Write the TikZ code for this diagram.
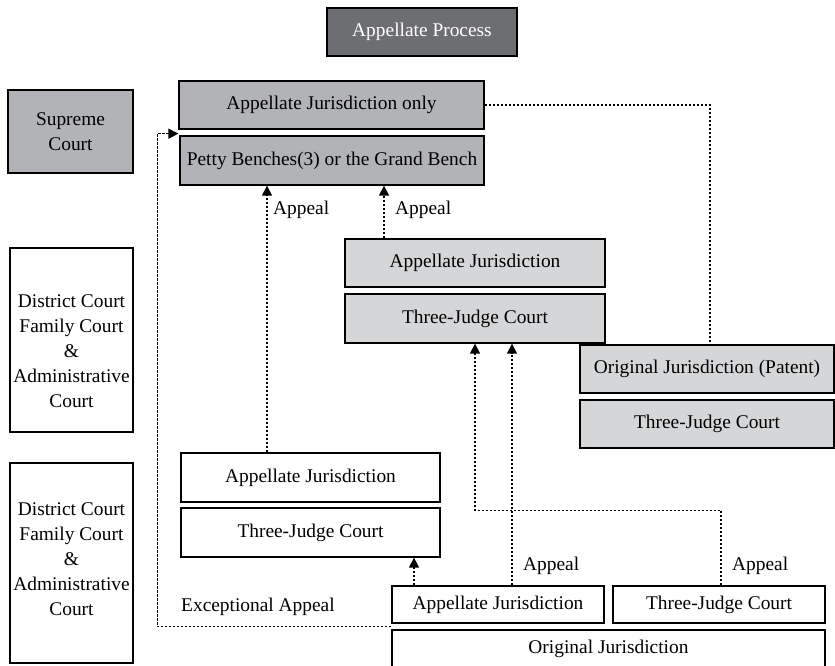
\documentclass[tikz,border=0pt]{standalone}
\usepackage{fontspec}
\setmainfont{Liberation Serif}
\usetikzlibrary{arrows.meta}
\definecolor{darkgrey}{HTML}{6D6E71}
\definecolor{midgrey}{HTML}{B1B3B6}
\definecolor{lightgrey}{HTML}{D5D6D8}
\begin{document}
\begin{tikzpicture}[x=1pt,y=-1pt,>={Triangle[width=10pt,length=10pt]},
  font=\fontsize{19.4}{25}\selectfont,
  court/.style={draw,line width=1.3pt,inner sep=0pt,align=center},
  link/.style={line width=1.4pt,dash pattern=on 2.2pt off 1.8pt},
  tag/.style={inner sep=0pt,anchor=west}]
\useasboundingbox (0,0) rectangle (835,666);
% supreme court level
\node[court,fill=darkgrey,text=white,minimum width=190pt,minimum height=48pt] (proc) at (422,32) {Appellate Process};
\node[court,fill=midgrey,minimum width=125pt,minimum height=83pt] (sup) at (70.5,131.5) {Supreme\\Court};
\node[court,fill=midgrey,minimum width=305pt,minimum height=48pt] (ajonly) at (331.5,105) {Appellate Jurisdiction only};
\node[court,fill=midgrey,minimum width=304pt,minimum height=49pt] (petty) at (332,160.5) {Petty Benches(3) or the Grand Bench};
% district court level
\node[court,minimum width=123pt,minimum height=184pt,
  label={[align=center,yshift=-11pt]center:District Court\\Family Court\\\&\\Administrative\\Court}] (dist1) at (71.5,340) {};
\node[court,minimum width=123pt,minimum height=200pt,
  label={[align=center,yshift=4pt]center:District Court\\Family Court\\\&\\Administrative\\Court}] (dist2) at (71.5,563) {};
\node[court,fill=lightgrey,minimum width=260pt,minimum height=48pt] (ajmid) at (475,263) {Appellate Jurisdiction};
\node[court,fill=lightgrey,minimum width=260pt,minimum height=49pt] (tjmid) at (475,318.5) {Three-Judge Court};
\node[court,fill=lightgrey,minimum width=254pt,minimum height=48pt] (ojpat) at (707,369) {Original Jurisdiction (Patent)};
\node[court,fill=lightgrey,minimum width=254pt,minimum height=48pt] (tjpat) at (707,424) {Three-Judge Court};
\node[court,minimum width=259pt,minimum height=49pt] (ajlow) at (310.5,477.5) {Appellate Jurisdiction};
\node[court,minimum width=259pt,minimum height=49pt] (tjlow) at (310.5,532.5) {Three-Judge Court};
\node[court,minimum width=212pt,minimum height=37pt] (ajbot) at (498,604.5) {Appellate Jurisdiction};
\node[court,minimum width=212pt,minimum height=37pt] (tjbot) at (719,604.5) {Three-Judge Court};
\node[court,minimum width=433pt,minimum height=38pt] (orig) at (608.5,649) {Original Jurisdiction};
% appeals
\draw[link,->] ([xshift=-43.5pt]ajlow.north) coordinate (a1) -- (a1 |- petty.south);
\draw[link,->] ([xshift=-91pt]ajmid.north) coordinate (a2) -- (a2 |- petty.south);
\draw[link,->] ([xshift=14pt]ajbot.north) coordinate (a3) -- (a3 |- tjmid.south);
\draw[link,->] ([xshift=2pt]tjbot.north) -- ++(0,-75) -| (tjmid.south);
\draw[link,->] ([xshift=-84pt]ajbot.north) coordinate (a5) -- (a5 |- tjlow.south);
\draw[link,->] ([yshift=-3pt]ajbot.south west) -| ([xshift=-21pt,yshift=-4pt]ajonly.south west) -- ([yshift=-4pt]ajonly.south west);
\draw[link] (ajonly.east) -| ([xshift=3pt]ojpat.north);
\node[tag] (lb1) at (273,210) {Appeal};
\node[tag] (lb2) at (395,210) {Appeal};
\node[tag] (lb3) at (523,566) {Appeal};
\node[tag] (lb4) at (732,566) {Appeal};
\node[tag] (lb5) at (181,607) {Exceptional Appeal};
\end{tikzpicture}
\end{document}
